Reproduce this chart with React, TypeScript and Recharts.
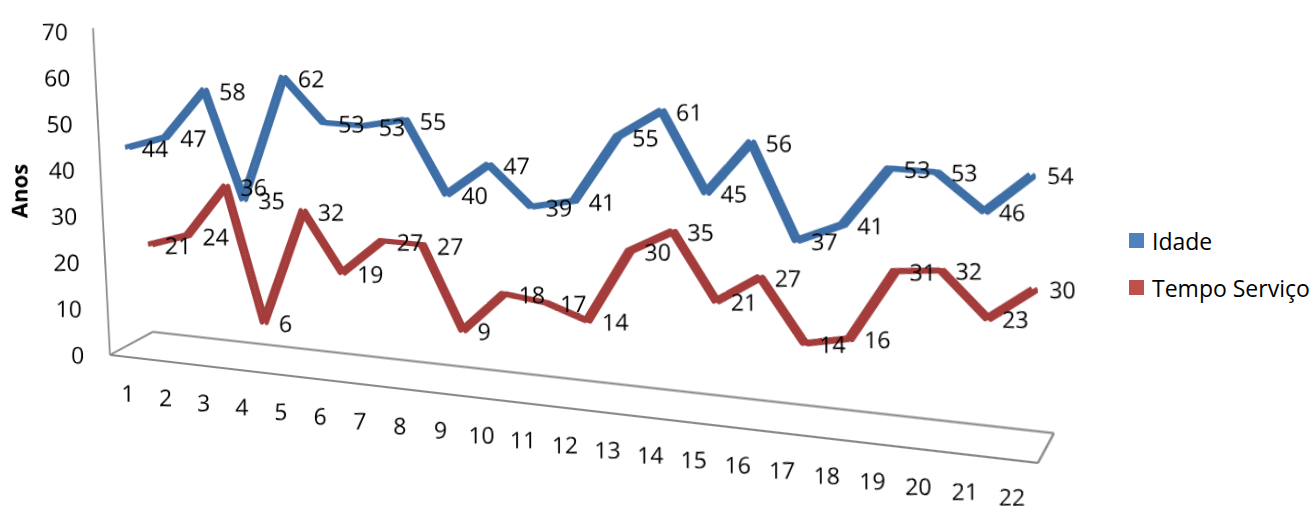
import React from 'react';
import { LineChart, Line, XAxis, YAxis, LabelList, Legend, ReferenceLine } from 'recharts';

// ---- data ----
const points = [1, 2, 3, 4, 5, 6, 7, 8, 9, 10, 11, 12, 13, 14, 15, 16, 17, 18, 19, 20, 21, 22];
const idade = [44, 47, 58, 35, 62, 53, 53, 55, 40, 47, 39, 41, 55, 61, 45, 56, 37, 41, 53, 53, 46, 54];
const tempoServico = [21, 24, 36, 6, 32, 19, 27, 27, 9, 18, 17, 14, 30, 35, 21, 27, 14, 16, 31, 32, 23, 30];
const yTicks = [0, 10, 20, 30, 40, 50, 60, 70];

const data = points.map((n, i) => ({ n, idade: idade[i], tempo: tempoServico[i] }));

// ---- look ----
const W = 1315;
const H = 506;
const FONT = '"Open Sans", "Noto Sans", sans-serif';
const FONT_SIZE = 23;
const BLUE_LINE = '#3E6EA6';
const RED_LINE = '#A33C3A';
const BLUE_SWATCH = '#4F81BD';
const RED_SWATCH = '#C0504D';
const FLOOR = '#8a8a8a';
const RIBBON = 5; // stroke of each ribbon edge

// fake 3-D: a flat chart is projected by a CSS homography
//   X = (A x + C) / w,  Y = (D x + y) / w,  w = 1 + G x
const HA = 0.85856;
const HC = 16.071;
const HD = 0.057468;
const HG = -1.2407e-4;
const PROJECTION = `matrix3d(${HA}, ${HD}, 0, ${HG}, 0, 1, 0, 0, 0, 0, 1, 0, ${HC}, 0, 0, 1)`;

const series = [
  { key: 'idade', name: 'Idade', swatch: BLUE_SWATCH },
  { key: 'tempo', name: 'Tempo Serviço', swatch: RED_SWATCH },
];

// floor outline + value axis line, in data units of the "t" axes
const floorFL = { x: 0.5175, y: 0 };
const floorFR = { x: 22.546, y: 0 };
const floorBR = { x: 22.881, y: 6.04 };
const floorBL = { x: 1.666, y: 6.04 };
const axisTop = { x: 0.0595, y: 70.53 };

/** inverse of the local projection, so text stays upright and unscaled */
function uprightMatrix(x: number, y: number) {
  const w = 1 + HG * x;
  const X = (HA * x + HC) / w;
  const Y = (HD * x + y) / w;
  const a = (HA - HG * X) / w;
  const c = (HD - HG * Y) / w;
  const d = 1 / w;
  return `matrix(${1 / a},${-c / (a * d)},0,${1 / d},0,0)`;
}

const svgXForPageX = (X: number) => (X - HC) / (HA - HG * X);

function PageText({ x, y, dx = 0, dy = 0, anchor = 'start', rotate = 0, bold = false, size = FONT_SIZE, children }: any) {
  return (
    <g transform={`translate(${x},${y}) ${uprightMatrix(x, y)}${rotate ? ` rotate(${rotate})` : ''}`}>
      <text
        x={dx}
        y={dy}
        textAnchor={anchor}
        dominantBaseline="central"
        fontFamily={FONT}
        fontSize={size}
        fontWeight={bold ? 700 : 400}
        fill="#000"
      >
        {children}
      </text>
    </g>
  );
}

const renderValueLabel = (props: any) => {
  const { x, y, value, index } = props;
  if (x == null || y == null) return null;
  return (
    <PageText key={index} x={x} y={y} dx={17} dy={1}>
      {value}
    </PageText>
  );
};

const XTick = (props: any) => {
  const { x, y, payload } = props;
  return (
    <PageText x={x} y={y + 35.4 - (x - 128) * 0.00334} anchor="middle">
      {payload.value}
    </PageText>
  );
};

const YTick = (props: any) => {
  const { y, payload } = props;
  return (
    <PageText x={svgXForPageX(68 + (70 - payload.value) * 0.233)} y={y} dy={3} anchor="end">
      {payload.value}
    </PageText>
  );
};

const renderAnos = () => (
  <PageText x={3.4} y={190.7} anchor="middle" rotate={-90} bold size={22}>
    Anos
  </PageText>
);

const renderLegend = () => (
  <div style={{ fontFamily: FONT, fontSize: FONT_SIZE, color: '#000' }}>
    {series.map((s) => (
      <div key={s.key} style={{ display: 'flex', alignItems: 'center', height: 47, whiteSpace: 'nowrap' }}>
        <span style={{ display: 'inline-block', width: 15, height: 15, background: s.swatch, marginRight: 8 }} />
        <span>{s.name}</span>
      </div>
    ))}
  </div>
);

// hidden x axis for one edge of a ribbon
const ribbonAxis = (id: string, left: number, right: number) => (
  <XAxis
    key={id}
    xAxisId={id}
    dataKey="n"
    type="number"
    domain={[1, 22]}
    padding={{ left, right }}
    height={0}
    hide
    allowDataOverflow
  />
);

const ribbonLine = (id: string, yId: string, key: string, color: string) => (
  <Line
    key={id}
    xAxisId={id}
    yAxisId={yId}
    type="linear"
    dataKey={key}
    stroke={color}
    strokeWidth={RIBBON}
    strokeLinejoin="round"
    dot={false}
    activeDot={false}
    legendType="none"
    isAnimationActive={false}
  />
);

export default function App() {
  return (
    <div
      className="proj-chart"
      style={{ position: 'absolute', left: 0, top: 0, width: W, height: H, overflow: 'hidden', background: '#fff' }}
    >
      <style>{`.proj-chart .recharts-surface { transform: ${PROJECTION}; transform-origin: 0 0; overflow: visible; }`}</style>
      <LineChart width={W} height={H} data={data} margin={{ top: 25, right: 215, bottom: 132, left: 0 }}>
        {/* visible axes (ticks only) */}
        <XAxis
          xAxisId="t"
          dataKey="n"
          type="number"
          domain={[1, 22]}
          ticks={points}
          interval={0}
          padding={{ left: 28, right: 88 }}
          height={30}
          axisLine={false}
          tickLine={false}
          tickSize={0}
          tickMargin={0}
          tick={<XTick />}
          allowDataOverflow
        />
        <YAxis
          yAxisId="t"
          type="number"
          domain={[0, 70]}
          ticks={yTicks}
          interval={0}
          width={100}
          axisLine={false}
          tickLine={false}
          tickSize={0}
          tickMargin={0}
          tick={<YTick />}
          label={renderAnos}
          allowDataOverflow
        />

        {/* hidden axes: each ribbon sits at its own depth, front and back edge */}
        {ribbonAxis('blueF', 24.4, 71.9)}
        {ribbonAxis('blueB', 29.4, 66.9)}
        {ribbonAxis('redF', 50.2, 70.1)}
        {ribbonAxis('redB', 55.2, 65.1)}
        <YAxis yAxisId="blue" type="number" domain={[-2.01, 69.23]} width={0} hide allowDataOverflow />
        <YAxis yAxisId="red" type="number" domain={[-5.415, 69.24]} width={0} hide allowDataOverflow />

        {/* floor and value axis line */}
        <ReferenceLine xAxisId="t" yAxisId="t" segment={[floorFL, floorFR]} stroke={FLOOR} strokeWidth={2} ifOverflow="visible" />
        <ReferenceLine xAxisId="t" yAxisId="t" segment={[floorFR, floorBR]} stroke={FLOOR} strokeWidth={2} ifOverflow="visible" />
        <ReferenceLine xAxisId="t" yAxisId="t" segment={[floorBR, floorBL]} stroke={FLOOR} strokeWidth={2} ifOverflow="visible" />
        <ReferenceLine xAxisId="t" yAxisId="t" segment={[floorBL, floorFL]} stroke={FLOOR} strokeWidth={2} ifOverflow="visible" />
        <ReferenceLine xAxisId="t" yAxisId="t" segment={[floorFL, axisTop]} stroke={FLOOR} strokeWidth={2} ifOverflow="visible" />

        {ribbonLine('redB', 'red', 'tempo', RED_LINE)}
        {ribbonLine('redF', 'red', 'tempo', RED_LINE)}
        {ribbonLine('blueB', 'blue', 'idade', BLUE_LINE)}
        {ribbonLine('blueF', 'blue', 'idade', BLUE_LINE)}

        {/* labels drawn last so they sit above both ribbons */}
        <Line
          xAxisId="redF"
          yAxisId="red"
          dataKey="tempo"
          name="Tempo Serviço"
          stroke="none"
          dot={false}
          activeDot={false}
          isAnimationActive={false}
        >
          <LabelList dataKey="tempo" content={renderValueLabel} />
        </Line>
        <Line
          xAxisId="blueF"
          yAxisId="blue"
          dataKey="idade"
          name="Idade"
          stroke="none"
          dot={false}
          activeDot={false}
          isAnimationActive={false}
        >
          <LabelList dataKey="idade" content={renderValueLabel} />
        </Line>

        <Legend
          layout="vertical"
          align="center"
          verticalAlign="middle"
          content={renderLegend}
          wrapperStyle={{ left: 1129, top: 217, width: 'auto' }}
        />
      </LineChart>
    </div>
  );
}
